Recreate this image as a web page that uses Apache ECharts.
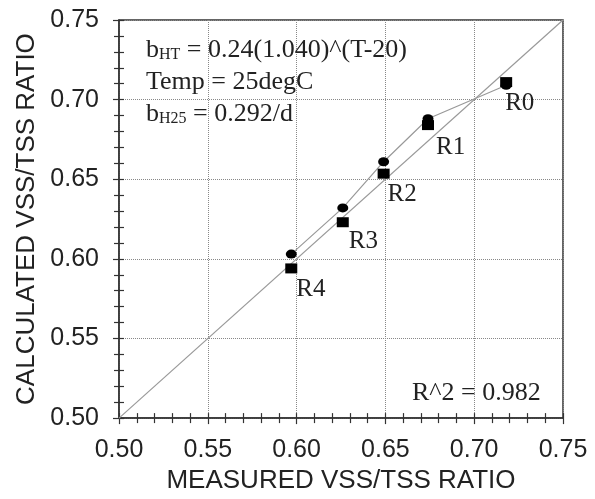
<!DOCTYPE html>
<html>
<head>
<meta charset="utf-8">
<script src="https://cdn.jsdelivr.net/npm/echarts@6/dist/echarts.min.js"></script>
<style>
  html, body { margin: 0; padding: 0; background: #fff; }
  #chart { width: 595px; height: 499px; }
</style>
</head>
<body>
<div id="chart"></div>
<script>
// Reactor runs and their VSS/TSS ratios
const runs = ['R0', 'R1', 'R2', 'R3', 'R4'];
const measured = [0.718, 0.674, 0.649, 0.626, 0.597];
// calculated ratio, square markers (labelled)
const calcSquare = [0.711, 0.684, 0.6535, 0.623, 0.594];
// calculated ratio, round markers (joined by a line)
const calcCircle = [0.709, 0.688, 0.661, 0.632, 0.603];
// 1:1 reference line end points
const oneToOne = [0.50, 0.75];
// axis tick values
const tickValues = [0.50, 0.55, 0.60, 0.65, 0.70, 0.75];

const SANS = '"Liberation Sans", Arial, sans-serif';
const SERIF = '"Liberation Serif", "Times New Roman", serif';
const INK = '#222';

const axMin = tickValues[0];
const axMax = tickValues[tickValues.length - 1];
const axStep = 0.05;

function labelledAxis(dim) {
  const isX = dim === 'x';
  return {
    type: 'value',
    position: isX ? 'bottom' : 'left',
    min: axMin,
    max: axMax,
    interval: axStep,
    name: isX ? 'MEASURED VSS/TSS RATIO' : 'CALCULATED VSS/TSS RATIO',
    nameLocation: 'middle',
    nameGap: isX ? 48 : 79,
    nameTextStyle: { fontFamily: SANS, fontSize: 26, color: INK },
    axisLine: { show: true, onZero: false, lineStyle: { color: '#333', width: 1.5 } },
    axisTick: { show: true, inside: true, length: 5, lineStyle: { color: '#333', width: 1.2 } },
    minorTick: { show: true, splitNumber: 5, length: 5, lineStyle: { color: '#333', width: 1.2 } },
    splitLine: { show: true, lineStyle: { type: 'dotted', color: '#888', width: 1 } },
    minorSplitLine: { show: false },
    axisLabel: {
      margin: 20,
      fontFamily: SANS,
      fontSize: 25,
      color: INK,
      formatter: v => v.toFixed(2)
    }
  };
}

// companion axis that carries the outward half of the tick marks
function outerTickAxis(dim) {
  const isX = dim === 'x';
  return {
    type: 'value',
    position: isX ? 'bottom' : 'left',
    min: axMin,
    max: axMax,
    interval: axStep,
    axisLine: { show: false, onZero: false },
    axisTick: { show: true, inside: false, length: 6, lineStyle: { color: '#333', width: 1.2 } },
    minorTick: { show: true, splitNumber: 5, length: 5, lineStyle: { color: '#333', width: 1.2 } },
    splitLine: { show: false },
    axisLabel: { show: false }
  };
}

const labelShift = { R0: [-1, 21], R1: [8, 22], R2: [4, 21], R3: [6, 19], R4: [5, 21] };

const circlePts = measured.map((x, i) => [x, calcCircle[i]]).sort((a, b) => a[0] - b[0]);
const squarePts = measured.map((x, i) => ({
  value: [x, calcSquare[i]],
  name: runs[i],
  label: { offset: labelShift[runs[i]] }
}));

const option = {
  animation: false,
  backgroundColor: '#fff',
  grid: {
    left: 119, top: 20, width: 444, height: 400,
    show: true, borderColor: '#333', borderWidth: 1.5, backgroundColor: 'transparent'
  },
  xAxis: [labelledAxis('x'), outerTickAxis('x')],
  yAxis: [labelledAxis('y'), outerTickAxis('y')],
  series: [
    {
      type: 'line',
      name: '1:1',
      data: [[oneToOne[0], oneToOne[0]], [oneToOne[1], oneToOne[1]]],
      symbol: 'none',
      silent: true,
      lineStyle: { color: '#999', width: 1.2 },
      z: 2
    },
    {
      type: 'line',
      name: 'calculated (circle)',
      data: circlePts,
      symbol: 'circle',
      symbolSize: [11, 9],
      showAllSymbol: true,
      itemStyle: { color: '#000', opacity: 1 },
      lineStyle: { color: '#999', width: 1.2 },
      z: 3
    },
    {
      type: 'scatter',
      name: 'calculated (square)',
      data: squarePts,
      symbol: 'rect',
      symbolSize: [12, 10],
      itemStyle: { color: '#000', opacity: 1 },
      label: {
        show: true,
        position: ['50%', '50%'],
        align: 'left',
        verticalAlign: 'middle',
        formatter: p => p.name,
        fontFamily: SERIF,
        fontSize: 25,
        color: INK,
        opacity: 1
      },
      z: 4
    }
  ],
  graphic: [
    {
      type: 'text',
      left: 146,
      top: 34,
      z: 10,
      style: {
        text: '{m|b}{s|HT}{m| = 0.24(1.040)^(T-20)}\n{m|Temp = 25degC}\n{m|b}{s|H25}{m| = 0.292/d}',
        fill: INK,
        fontFamily: SERIF,
        fontSize: 26,
        lineHeight: 32,
        rich: {
          m: { fontFamily: SERIF, fontSize: 26, lineHeight: 32, fill: INK },
          s: { fontFamily: SERIF, fontSize: 16, verticalAlign: 'bottom', padding: [0, 0, 3, 0], fill: INK }
        }
      }
    },
    {
      type: 'text',
      left: 412,
      top: 377,
      z: 10,
      style: {
        text: 'R^2 = 0.982',
        fill: INK,
        fontFamily: SERIF,
        fontSize: 26,
        lineHeight: 32
      }
    }
  ]
};

const chart = echarts.init(document.getElementById('chart'), null, { renderer: 'canvas' });
chart.setOption(option);
</script>
</body>
</html>
